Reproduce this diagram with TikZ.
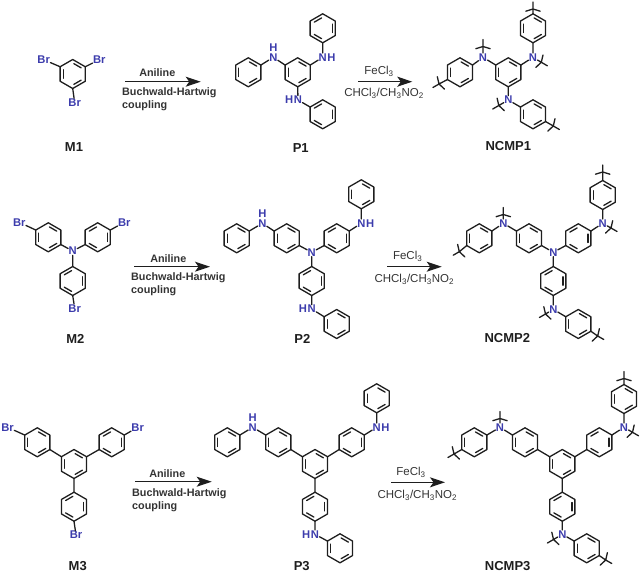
\documentclass[tikz,border=0pt]{standalone}
\usepackage{fontspec}
\setmainfont{Liberation Sans}
\usetikzlibrary{calc,arrows.meta}
\definecolor{atomblue}{HTML}{3C3CAC}
\definecolor{ink}{HTML}{1E1E1E}
\definecolor{reag}{HTML}{333333}
\tikzset{
  bond/.style={draw=ink,line width=1.3pt,line cap=round,line join=round},
  atomlbl/.style={text=atomblue,font=\bfseries\fontsize{11.2}{13}\selectfont,inner sep=0.3pt},
  namelbl/.style={text=ink,font=\bfseries\fontsize{13}{15}\selectfont,inner sep=0pt},
  reagbold/.style={text=reag,font=\bfseries\fontsize{10.8}{13}\selectfont,inner sep=0pt,align=left},
  reagthin/.style={text=reag,font=\fontsize{11.5}{13}\selectfont,inner sep=0pt},
  rxn/.style={draw=ink,line width=1.2pt,-{Stealth[length=15pt,width=10pt,inset=3.5pt]}}
}
% #1 name, #2 x, #3 y, #4 L or R (which Kekule form)
\newcommand{\hexring}[4]{%
  \coordinate (#1c) at (#2,#3);
  \coordinate (#1t) at ($(#2,#3)+(0,-14.5)$);
  \coordinate (#1b) at ($(#2,#3)+(0,14.5)$);
  \coordinate (#1ur) at ($(#2,#3)+(12.56,-7.25)$);
  \coordinate (#1lr) at ($(#2,#3)+(12.56,7.25)$);
  \coordinate (#1ul) at ($(#2,#3)+(-12.56,-7.25)$);
  \coordinate (#1ll) at ($(#2,#3)+(-12.56,7.25)$);
  \draw[bond] (#1t)--(#1ur)--(#1lr)--(#1b)--(#1ll)--(#1ul)--cycle;
  \if#4L
    \inedge{#1}{ul}{ll}\inedge{#1}{t}{ur}\inedge{#1}{lr}{b}%
  \else
    \inedge{#1}{ur}{lr}\inedge{#1}{t}{ul}\inedge{#1}{ll}{b}%
  \fi
}
\newcommand{\inedge}[3]{\draw[bond,shorten <=1.3pt,shorten >=1.3pt] ($(#1c)!.76!(#1#2)$)--($(#1c)!.76!(#1#3)$);}
% #1 start, #2 name, #3 x, #4 y, #5 screen angle of the outward direction
\newcommand{\crosslink}[5]{%
  \coordinate (#2) at (#3,#4);
  \coordinate (#2f) at ($(#2)+({7*cos(#5)},{7*sin(#5)})$);
  \coordinate (#2s) at ($(#2)+({7.5*cos(#5+107)},{7.5*sin(#5+107)})$);
  \coordinate (#2o) at ($(#2)+({7.5*cos(#5-107)},{7.5*sin(#5-107)})$);
  \draw[bond] (#1)--(#2) (#2)--(#2f) (#2)--(#2s) (#2)--(#2o);
}
\begin{document}
\begin{tikzpicture}[x=1pt,y=-1pt]
\useasboundingbox (0,0) rectangle (640,578);
%%%% Row 1
\hexring{ma}{72.7}{74}{L}
\node[atomlbl] (maBa) at (43.7,59.7) {Br};
\node[atomlbl] (maBb) at (99.3,59.7) {Br};
\node[atomlbl] (maBc) at (74.7,102.7) {Br};
\draw[bond] (maul)--(maBa) (maur)--(maBb) (mab)--(maBc);
\node[namelbl] (M1) at (74,146.7) {M1};
\coordinate (ra1) at (125,81.7); \coordinate (ra2) at (200.7,81.7);
\draw[rxn] (ra1)--(ra2);
\node[reagbold] (ra3) at (157.3,72.7) {Aniline};
\node[reagbold,anchor=west] (ra4) at (122,99) {Buchwald-Hartwig\\coupling};
%
\hexring{pal}{248.3}{72.3}{L}
\hexring{pac}{297.7}{72.3}{L}
\hexring{pat}{322.7}{28.3}{R}
\hexring{pab}{322.7}{114.3}{R}
\node[atomlbl] (paN1) at (273.3,57.3) {N};
\node[atomlbl] (paH1) at (273.3,47.3) {H};
\node[atomlbl] (paN2) at (322.7,57.3) {N};
\node[atomlbl] (paH2) at (331.5,57.3) {H};
\node[atomlbl] (paN3) at (298,100) {N};
\node[atomlbl] (paH3) at (289.2,100) {H};
\draw[bond] (palur)--(paN1) (paN1)--(pacul) (pacur)--(paN2) (paN2)--(patb) (pacb)--(paN3) (paN3)--(pabul);
\node[namelbl] (P1) at (300.7,147.7) {P1};
\coordinate (rb1) at (358.3,81.7); \coordinate (rb2) at (412.3,81.7);
\draw[rxn] (rb1)--(rb2);
\node[reagthin] (rb3) at (379,71.5) {FeCl\textsubscript{3}};
\node[reagthin] (rb4) at (384,93.3) {CHCl\textsubscript{3}/CH\textsubscript{3}NO\textsubscript{2}};
%
\hexring{nal}{460}{72.3}{L}
\hexring{nac}{508.3}{72.3}{L}
\hexring{nat}{533}{28.3}{L}
\hexring{nab}{533}{114.3}{L}
\node[atomlbl] (naN1) at (483,57.3) {N};
\node[atomlbl] (naN2) at (533,57.3) {N};
\node[atomlbl] (naN3) at (508.3,100) {N};
\draw[bond] (nalur)--(naN1) (naN1)--(nacul) (nacur)--(naN2) (naN2)--(natb) (nacb)--(naN3) (naN3)--(nabul);
\crosslink{naN1}{xa1}{483}{46.5}{-90}
\crosslink{naN2}{xa2}{541.3}{62.3}{30}
\crosslink{naN3}{xa3}{498.8}{105.5}{150}
\crosslink{nalll}{xa4}{439}{84}{150}
\crosslink{nablr}{xa5}{553.3}{126}{30}
\crosslink{natt}{xa6}{533}{9}{-90}
\node[namelbl] (NCMP1) at (508.3,145.7) {NCMP1};
%%%% Row 2
\hexring{mbl}{48.3}{237.3}{L}
\hexring{mbr}{97.7}{237.3}{R}
\hexring{mbd}{72.7}{281}{R}
\node[atomlbl] (mbN) at (72.7,251) {N};
\node[atomlbl] (mbBa) at (19.3,222.3) {Br};
\node[atomlbl] (mbBb) at (124.3,222.3) {Br};
\node[atomlbl] (mbBc) at (74.7,308.3) {Br};
\draw[bond] (mbllr)--(mbN) (mbrll)--(mbN) (mbdt)--(mbN) (mblul)--(mbBa) (mbrur)--(mbBb) (mbdb)--(mbBc);
\node[namelbl] (M2) at (75.3,339) {M2};
\coordinate (rc1) at (134,266.7); \coordinate (rc2) at (210,266.7);
\draw[rxn] (rc1)--(rc2);
\node[reagbold] (rc3) at (168.3,258.3) {Aniline};
\node[reagbold,anchor=west] (rc4) at (131,284) {Buchwald-Hartwig\\coupling};
%
\hexring{pbl}{236.7}{238.3}{L}
\hexring{pbm}{286.7}{238.3}{L}
\hexring{pbr}{336.7}{238.3}{R}
\hexring{pbt}{361.3}{194.3}{L}
\hexring{pbd}{311.7}{281}{R}
\hexring{pbb}{336.7}{324}{L}
\node[atomlbl] (pbN) at (311.7,252.3) {N};
\node[atomlbl] (pbN1) at (262.3,223.3) {N};
\node[atomlbl] (pbH1) at (262.3,213.3) {H};
\node[atomlbl] (pbN2) at (361.3,223.3) {N};
\node[atomlbl] (pbH2) at (370.1,223.3) {H};
\node[atomlbl] (pbN3) at (311.7,309) {N};
\node[atomlbl] (pbH3) at (302.9,309) {H};
\draw[bond] (pblur)--(pbN1) (pbN1)--(pbmul) (pbmlr)--(pbN) (pbrll)--(pbN) (pbdt)--(pbN) (pbrur)--(pbN2) (pbN2)--(pbtb) (pbdb)--(pbN3) (pbN3)--(pbbul);
\node[namelbl] (P2) at (302.3,339.3) {P2};
\coordinate (rd1) at (387.3,266.7); \coordinate (rd2) at (441.7,266.7);
\draw[rxn] (rd1)--(rd2);
\node[reagthin] (rd3) at (407.7,256.5) {FeCl\textsubscript{3}};
\node[reagthin] (rd4) at (414.3,279) {CHCl\textsubscript{3}/CH\textsubscript{3}NO\textsubscript{2}};
%
\hexring{nbl}{479.3}{238.3}{L}
\hexring{nbm}{529}{238.3}{L}
\hexring{nbr}{578.3}{238.3}{R}
\hexring{nbt}{602.7}{195}{L}
\hexring{nbd}{553.3}{281}{R}
\hexring{nbb}{578.3}{324}{L}
\node[atomlbl] (nbN) at (553.3,252.3) {N};
\node[atomlbl] (nbN1) at (503.3,223.3) {N};
\node[atomlbl] (nbN2) at (602.7,223.3) {N};
\node[atomlbl] (nbN3) at (553.3,309.3) {N};
\draw[bond] (nblur)--(nbN1) (nbN1)--(nbmul) (nbmlr)--(nbN) (nbrll)--(nbN) (nbdt)--(nbN) (nbrur)--(nbN2) (nbN2)--(nbtb) (nbdb)--(nbN3) (nbN3)--(nbbul);
\crosslink{nbN1}{xb1}{503.3}{214.5}{-90}
\crosslink{nbN2}{xb2}{611}{228}{30}
\crosslink{nbN3}{xb3}{545.5}{314}{150}
\crosslink{nblll}{xb4}{459.3}{251.7}{150}
\crosslink{nbblr}{xb5}{597.7}{336}{30}
\crosslink{nbtt}{xb6}{602.7}{172}{-90}
\node[namelbl] (NCMP2) at (507.3,337.7) {NCMP2};
%%%% Row 3
\hexring{mcc}{74}{464}{L}
\hexring{mcl}{37.3}{442.3}{L}
\hexring{mcr}{111.7}{442.3}{R}
\hexring{mcd}{74}{506.7}{R}
\node[atomlbl] (mcBa) at (7.6,427.3) {Br};
\node[atomlbl] (mcBb) at (137.7,427.3) {Br};
\node[atomlbl] (mcBc) at (76,535) {Br};
\draw[bond] (mclul)--(mcBa) (mcrur)--(mcBb) (mcdb)--(mcBc) (mccul)--(mcllr) (mccur)--(mcrll) (mccb)--(mcdt);
\node[namelbl] (M3) at (77.7,566) {M3};
\coordinate (re1) at (135,481.7); \coordinate (re2) at (211.7,481.7);
\draw[rxn] (re1)--(re2);
\node[reagbold] (re3) at (167.3,473.3) {Aniline};
\node[reagbold,anchor=west] (re4) at (132,500) {Buchwald-Hartwig\\coupling};
%
\hexring{pcl}{227.3}{442.3}{L}
\hexring{pcm}{278.3}{442.3}{L}
\hexring{pcc}{315}{464}{L}
\hexring{pcr}{351.7}{442.3}{R}
\hexring{pct}{376.7}{398.3}{L}
\hexring{pcd}{315}{506.7}{R}
\hexring{pcb}{340}{548.3}{L}
\node[atomlbl] (pcN1) at (252.7,427.3) {N};
\node[atomlbl] (pcH1) at (252.7,417.3) {H};
\node[atomlbl] (pcN2) at (376.7,427.3) {N};
\node[atomlbl] (pcH2) at (385.5,427.3) {H};
\node[atomlbl] (pcN3) at (315,534.3) {N};
\node[atomlbl] (pcH3) at (306.2,534.3) {H};
\draw[bond] (pclur)--(pcN1) (pcN1)--(pcmul) (pcmlr)--(pccul) (pccur)--(pcrll) (pccb)--(pcdt) (pcrur)--(pcN2) (pcN2)--(pctb) (pcdb)--(pcN3) (pcN3)--(pcbul);
\node[namelbl] (P3) at (301.7,566) {P3};
\coordinate (rf1) at (391,482.3); \coordinate (rf2) at (445,482.3);
\draw[rxn] (rf1)--(rf2);
\node[reagthin] (rf3) at (411,472) {FeCl\textsubscript{3}};
\node[reagthin] (rf4) at (417.3,495.7) {CHCl\textsubscript{3}/CH\textsubscript{3}NO\textsubscript{2}};
%
\hexring{ncl}{474.3}{442.3}{L}
\hexring{ncm}{525}{442.3}{L}
\hexring{ncc}{562.3}{464}{L}
\hexring{ncr}{599.3}{442.3}{R}
\hexring{nct}{624}{399}{L}
\hexring{ncd}{562.3}{506.7}{R}
\hexring{ncb}{586.7}{548.3}{L}
\node[atomlbl] (ncN1) at (500,427.3) {N};
\node[atomlbl] (ncN2) at (624,427.3) {N};
\node[atomlbl] (ncN3) at (562.3,534.3) {N};
\draw[bond] (nclur)--(ncN1) (ncN1)--(ncmul) (ncmlr)--(nccul) (nccur)--(ncrll) (nccb)--(ncdt) (ncrur)--(ncN2) (ncN2)--(nctb) (ncdb)--(ncN3) (ncN3)--(ncbul);
\crosslink{ncN1}{xc1}{500}{418.5}{-90}
\crosslink{ncN2}{xc2}{632.5}{432.3}{30}
\crosslink{ncN3}{xc3}{553.5}{539.5}{150}
\crosslink{nclll}{xc4}{454}{454}{150}
\crosslink{ncblr}{xc5}{605.7}{560}{30}
\crosslink{nctt}{xc6}{624}{378.5}{-90}
\node[namelbl] (NCMP3) at (507.7,566) {NCMP3};
\end{tikzpicture}
\end{document}
